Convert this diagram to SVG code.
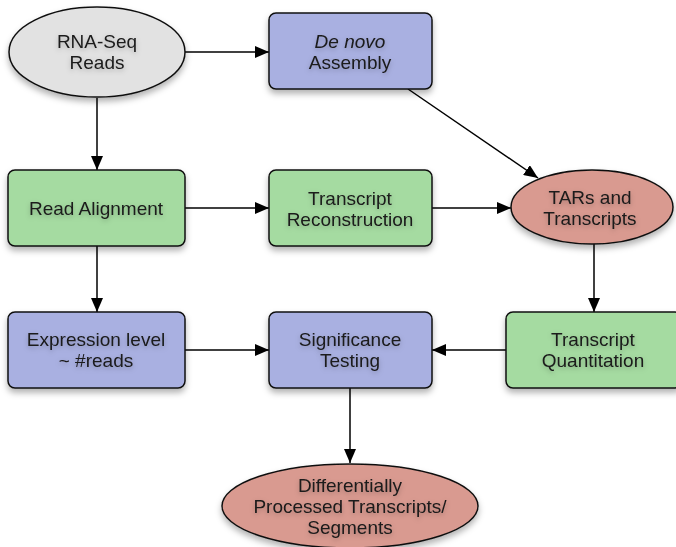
<svg xmlns="http://www.w3.org/2000/svg" width="676" height="547" viewBox="0 0 676 547">
<style>
.n{stroke:#111;stroke-width:1.5}
.gray{fill:#e2e2e2}
.blue{fill:#a9b0e1}
.green{fill:#a5dba1}
.pink{fill:#d99a90}
text{font-family:"Liberation Sans",Arial,sans-serif;font-size:19px;fill:#1a1a1a;text-anchor:middle}
.c line{stroke:#000;stroke-width:1.5;marker-end:url(#ah)}
</style>
<defs>
<marker id="ah" viewBox="0 0 14 12" refX="14" refY="6" markerWidth="14" markerHeight="12" markerUnits="userSpaceOnUse" orient="auto">
<path d="M0,0 L14,6 L0,12 z" fill="#000"/>
</marker>
<filter id="sh" x="-20%" y="-20%" width="140%" height="150%">
<feDropShadow dx="0" dy="4" stdDeviation="3" flood-color="#000" flood-opacity="0.3"/>
</filter>
<filter id="ts" x="-20%" y="-50%" width="140%" height="200%">
<feDropShadow dx="0" dy="2" stdDeviation="2.5" flood-color="#000" flood-opacity="0.25"/>
</filter>
</defs>
<g class="c">
<line x1="185" y1="52" x2="269" y2="52"/>
<line x1="97" y1="98" x2="97" y2="170"/>
<line x1="408" y1="89" x2="538" y2="178"/>
<line x1="185" y1="208" x2="269" y2="208"/>
<line x1="432" y1="208" x2="511" y2="208"/>
<line x1="594" y1="244" x2="594" y2="312"/>
<line x1="97" y1="246" x2="97" y2="312"/>
<line x1="185" y1="350" x2="269" y2="350"/>
<line x1="506" y1="350" x2="432" y2="350"/>
<line x1="350" y1="388" x2="350" y2="463"/>
</g>
<g id="rnaseq" filter="url(#sh)">
<ellipse class="n gray" cx="97" cy="52" rx="88" ry="45"/>
<text x="97" y="48" filter="url(#ts)">RNA-Seq</text>
<text x="97" y="69" filter="url(#ts)">Reads</text>
</g>
<g id="denovo" filter="url(#sh)">
<rect class="n blue" x="269" y="13" width="163" height="76" rx="7"/>
<text x="350" y="48" font-style="italic" filter="url(#ts)">De novo</text>
<text x="350" y="69" filter="url(#ts)">Assembly</text>
</g>
<g id="readalign" filter="url(#sh)">
<rect class="n green" x="8" y="170" width="177" height="76" rx="7"/>
<text x="96" y="215" filter="url(#ts)">Read Alignment</text>
</g>
<g id="recon" filter="url(#sh)">
<rect class="n green" x="269" y="170" width="163" height="76" rx="7"/>
<text x="350" y="205" filter="url(#ts)">Transcript</text>
<text x="350" y="226" filter="url(#ts)">Reconstruction</text>
</g>
<g id="tars" filter="url(#sh)">
<ellipse class="n pink" cx="592" cy="207" rx="81" ry="37"/>
<text x="590" y="204" filter="url(#ts)">TARs and</text>
<text x="590" y="225" filter="url(#ts)">Transcripts</text>
</g>
<g id="expr" filter="url(#sh)">
<rect class="n blue" x="8" y="312" width="177" height="76" rx="7"/>
<text x="96" y="346" filter="url(#ts)">Expression level</text>
<text x="96" y="367" filter="url(#ts)">~ #reads</text>
</g>
<g id="signif" filter="url(#sh)">
<rect class="n blue" x="269" y="312" width="163" height="76" rx="7"/>
<text x="350" y="346" filter="url(#ts)">Significance</text>
<text x="350" y="367" filter="url(#ts)">Testing</text>
</g>
<g id="quant" filter="url(#sh)">
<rect class="n green" x="506" y="312" width="176" height="76" rx="7"/>
<text x="593" y="346" filter="url(#ts)">Transcript</text>
<text x="593" y="367" filter="url(#ts)">Quantitation</text>
</g>
<g id="diff" filter="url(#sh)">
<ellipse class="n pink" cx="350" cy="506" rx="128" ry="42"/>
<text x="350" y="492" filter="url(#ts)">Differentially</text>
<text x="350" y="513" filter="url(#ts)">Processed Transcripts/</text>
<text x="350" y="534" filter="url(#ts)">Segments</text>
</g>
</svg>
